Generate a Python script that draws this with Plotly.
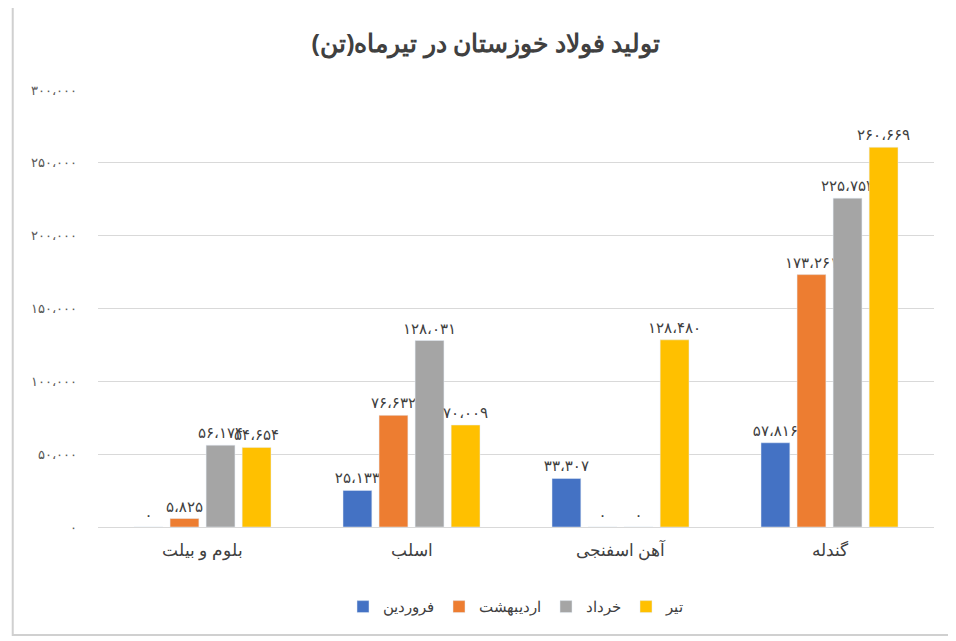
import plotly.graph_objects as go

categories = ["بلوم و بیلت", "اسلب", "آهن اسفنجی", "گندله"]
series_names = ["فروردین", "اردیبهشت", "خرداد", "تیر"]
farvardin = [0, 25133, 33307, 57816]
ordibehesht = [5825, 76632, 0, 173261]
khordad = [56174, 128031, 0, 225754]
tir = [54654, 70009, 128480, 260669]
tick_values = [0, 50000, 100000, 150000, 200000, 250000, 300000]
colors = ["#4472C4", "#ED7D31", "#A5A5A5", "#FFC000"]

fa = str.maketrans("0123456789", "۰۱۲۳۴۵۶۷۸۹")
def fmt(v):
    return f"{v:,}".replace(",", "،").translate(fa)

fig = go.Figure()
for name, vals, c in zip(series_names, [farvardin, ordibehesht, khordad, tir], colors):
    fig.add_bar(x=categories, y=vals, name=name, marker_color=c,
                text=[fmt(v) for v in vals], textposition="outside",
                constraintext="none",
                textfont=dict(size=15, color="#404040", family="DejaVu Sans"),
                cliponaxis=False)

fig.update_layout(
    width=956, height=641, paper_bgcolor="white", plot_bgcolor="white",
    title=dict(text="<b>تولید فولاد خوزستان در تیرماه(تن)</b>", x=0.5, y=0.945,
               xanchor="center", yanchor="middle",
               font=dict(size=25, color="#404040", family="Noto Sans")),
    margin=dict(l=90, r=30, t=82, b=122),
    barmode="group", bargap=0.31, bargroupgap=0.2,
    legend=dict(orientation="h", x=0.5, xanchor="center", y=-0.145, yanchor="top",
                font=dict(size=15, color="#404040", family="Noto Sans"), traceorder="normal"),
    xaxis=dict(tickfont=dict(size=17, color="#404040", family="Noto Sans"),
               showline=True, linecolor="#d9d9d9", ticklabelstandoff=8),
    yaxis=dict(range=[0, 300000], tickvals=tick_values, ticktext=[fmt(v) for v in tick_values],
               tickfont=dict(size=13, color="#595959"), gridcolor="#d9d9d9",
               zeroline=False, ticklabelstandoff=20),
    shapes=[dict(type="rect", xref="paper", yref="paper", x0=-0.102, x1=1.029, y0=-0.247, y1=1.194,
                 line=dict(color="#d0d0d0", width=2))],
)
fig.write_html("out.html")
